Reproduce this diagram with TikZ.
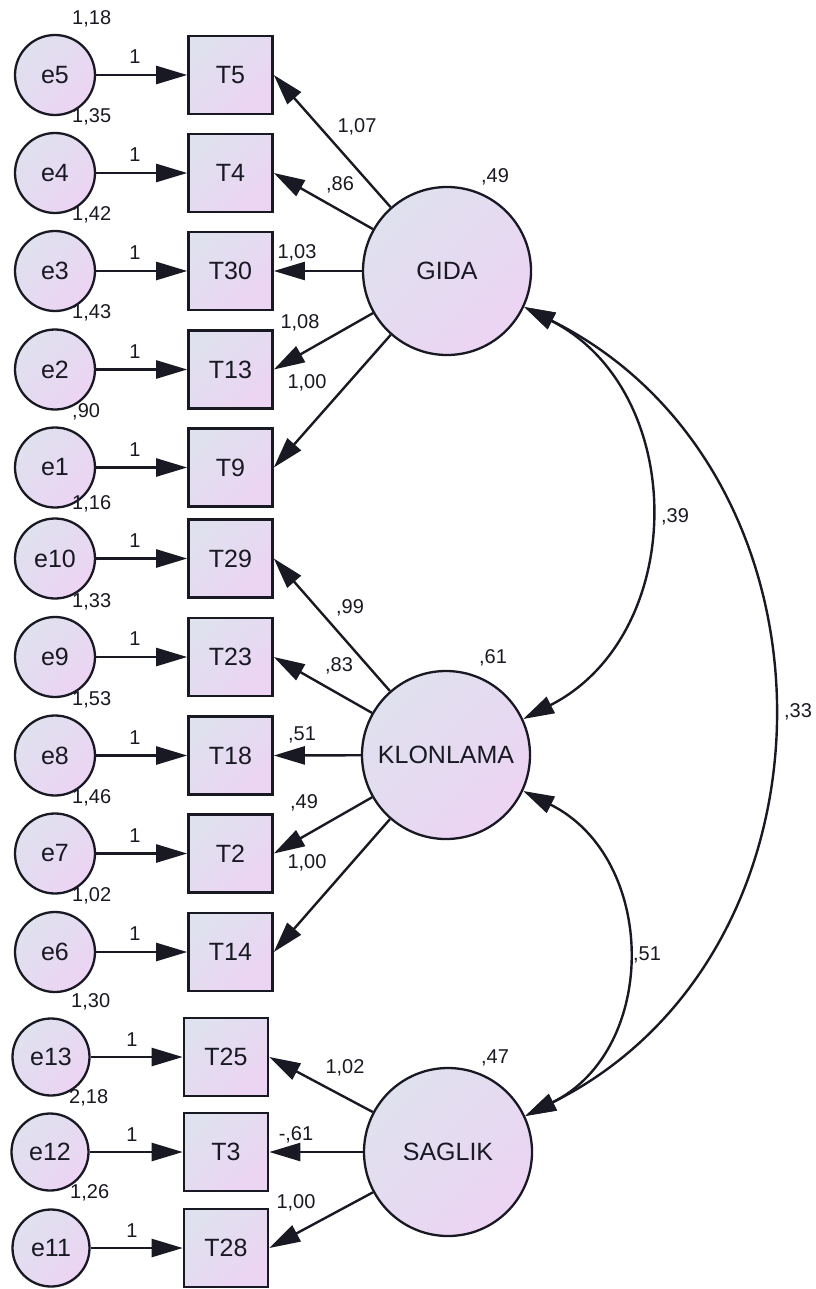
\documentclass[tikz,border=0pt]{standalone}
\usepackage{fontspec}
\setmainfont{Liberation Sans}
\usetikzlibrary{arrows.meta}
\definecolor{fillA}{RGB}{223,225,238}
\definecolor{fillB}{RGB}{236,212,243}
\definecolor{ink}{RGB}{25,25,35}
\begin{document}
\begin{tikzpicture}[x=1pt,y=1pt,
  every node/.style={text=ink},
  obs/.style={rectangle, draw=ink, line width=2.6pt, minimum width=84pt, minimum height=78pt, inner sep=0pt,
    top color=fillA, bottom color=fillB, shading angle=45, font=\fontsize{25}{30}\selectfont},
  err/.style={circle, draw=ink, line width=2.3pt, minimum size=80pt, inner sep=0pt,
    top color=fillA, bottom color=fillB, shading angle=45, font=\fontsize{25}{30}\selectfont},
  errs/.style={err, minimum size=77pt},
  lat/.style={circle, draw=ink, line width=2.3pt, minimum size=168pt, inner sep=0pt,
    top color=fillA, bottom color=fillB, shading angle=45, font=\fontsize{25}{30}\selectfont},
  reg/.style={draw=ink, line width=2.4pt, -{Triangle[length=31pt,width=18pt]}},
  cov/.style={draw=ink, line width=2.4pt, {Triangle[length=31pt,width=18pt]}-{Triangle[length=31pt,width=18pt]}},
  num/.style={font=\fontsize{20}{24}\selectfont, inner sep=0pt},
  var/.style={num, anchor=west},
]
\fill[white] (0,0) rectangle (815,-1289);
\useasboundingbox (0,0) rectangle (815,-1289);

% error terms and observed variables
\node[err] (e5)  at (55,-75)    {e5};   \node[obs] (T5)  at (230.5,-75)    {T5};
\node[err] (e4)  at (55,-173)   {e4};   \node[obs] (T4)  at (230.5,-173)   {T4};
\node[err] (e3)  at (55,-271)   {e3};   \node[obs] (T30) at (230.5,-271)   {T30};
\node[err] (e2)  at (55,-369.5) {e2};   \node[obs] (T13) at (230.5,-369.5) {T13};
\node[err] (e1)  at (55,-467.5) {e1};   \node[obs] (T9)  at (230.5,-467.5) {T9};
\node[err] (e10) at (55,-558.5) {e10};  \node[obs] (T29) at (230.5,-558.5) {T29};
\node[err] (e9)  at (55,-657)   {e9};   \node[obs] (T23) at (230.5,-657)   {T23};
\node[err] (e8)  at (55,-755.5) {e8};   \node[obs] (T18) at (230.5,-755.5) {T18};
\node[err] (e7)  at (55,-853.5) {e7};   \node[obs] (T2)  at (230.5,-853.5) {T2};
\node[err] (e6)  at (55,-952)   {e6};   \node[obs] (T14) at (230.5,-952)   {T14};
\node[errs] (e13) at (51,-1057) {e13};  \node[obs] (T25) at (226,-1057)   {T25};
\node[errs] (e12) at (50,-1152) {e12};  \node[obs] (T3)  at (226,-1152)   {T3};
\node[errs] (e11) at (51,-1248) {e11};  \node[obs] (T28) at (226,-1248)   {T28};

% latent variables
\node[lat] (GIDA)     at (447,-271)  {GIDA};
\node[lat] (KLONLAMA) at (446,-755)  {KLONLAMA};
\node[lat] (SAGLIK)   at (448,-1152) {SAGLIK};

% error -> indicator
\foreach \a/\b in {e5/T5,e4/T4,e3/T30,e2/T13,e1/T9,e10/T29,e9/T23,e8/T18,e7/T2,e6/T14,e13/T25,e12/T3,e11/T28}
  \draw[reg] (\a) -- (\b);

% loadings
\foreach \t in {T5,T4,T30,T13,T9} \draw[reg] (GIDA) -- (\t.east);
\foreach \t in {T29,T23,T18,T2,T14} \draw[reg] (KLONLAMA) -- (\t.east);
\foreach \t in {T25,T3,T28} \draw[reg] (SAGLIK) -- (\t.east);

% covariances
\draw[cov] (GIDA.-25) to[out=-27,in=27,looseness=1.15] (KLONLAMA.25);
\draw[cov] (GIDA.-25) to[out=-26.5,in=26.5,looseness=1.16] (SAGLIK.25);
\draw[cov] (KLONLAMA.-25) to[out=-26.5,in=26.5,looseness=1.18] (SAGLIK.25);

% variance labels of error terms
\node[var] (v5)  at (72,-19)   {1,18};
\node[var] (v4)  at (72,-117)  {1,35};
\node[var] (v3)  at (72,-215)  {1,42};
\node[var] (v2)  at (72,-313)  {1,43};
\node[var] (v1)  at (72,-412)  {,90};
\node[var] (v10) at (72,-504)  {1,16};
\node[var] (v9)  at (72,-602)  {1,33};
\node[var] (v8)  at (72,-700)  {1,53};
\node[var] (v7)  at (72,-798)  {1,46};
\node[var] (v6)  at (72,-896)  {1,02};
\node[var] (v13) at (71,-1002) {1,30};
\node[var] (v12) at (69,-1098) {2,18};
\node[var] (v11) at (70,-1193) {1,26};

% fixed weights
\node[num] (w5)  at (135,-57)    {1};
\node[num] (w4)  at (135,-155)   {1};
\node[num] (w3)  at (135,-253)   {1};
\node[num] (w2)  at (135,-351.5) {1};
\node[num] (w1)  at (135,-449.5) {1};
\node[num] (w10) at (135,-540.5) {1};
\node[num] (w9)  at (135,-639)   {1};
\node[num] (w8)  at (135,-737.5) {1};
\node[num] (w7)  at (135,-835.5) {1};
\node[num] (w6)  at (135,-934)   {1};
\node[num] (w13) at (132,-1040)  {1};
\node[num] (w12) at (132,-1135)  {1};
\node[num] (w11) at (132,-1231)  {1};

% loading labels
\node[num] (lT5)  at (357,-127) {1,07};
\node[num] (lT4)  at (340,-185) {,86};
\node[num] (lT30) at (297,-253) {1,03};
\node[num] (lT13) at (300,-323) {1,08};
\node[num] (lT9)  at (307,-383) {1,00};
\node[num] (vG)   at (495,-177) {,49};
\node[num] (lT29) at (350,-608) {,99};
\node[num] (lT23) at (339,-666) {,83};
\node[num] (lT18) at (302,-735) {,51};
\node[num] (lT2)  at (304,-803) {,49};
\node[num] (lT14) at (307,-863) {1,00};
\node[num] (vK)   at (493,-658) {,61};
\node[num] (lT25) at (345,-1068) {1,02};
\node[num] (lT3)  at (296,-1135) {-,61};
\node[num] (lT28) at (296,-1203) {1,00};
\node[num] (vS)   at (495,-1058) {,47};

% covariance labels
\node[num] (cGK) at (675,-517) {,39};
\node[num] (cGS) at (798,-712) {,33};
\node[num] (cKS) at (647,-955) {,51};
\end{tikzpicture}
\end{document}
